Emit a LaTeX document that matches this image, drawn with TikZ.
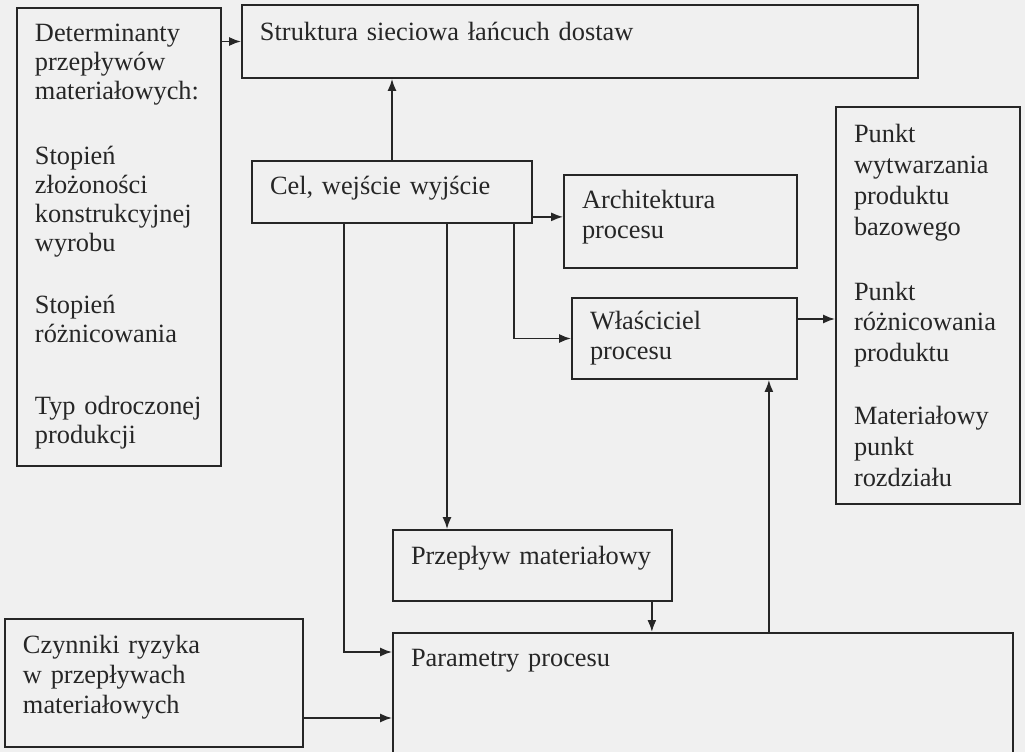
\documentclass[tikz,border=0pt]{standalone}
\usepackage{fontspec}
\setmainfont{Liberation Serif}
\usepackage{tikz}
\usetikzlibrary{positioning,arrows.meta}
\definecolor{mypaper}{rgb}{0.94,0.94,0.94}
\definecolor{myink}{rgb}{0.15,0.15,0.15}
\hyphenpenalty=10000
\exhyphenpenalty=10000

\begin{document}
\begin{tikzpicture}[x=0.2mm,y=-0.2mm,
        block/.style  = {draw=myink, rectangle, line width=1pt, align=left, inner xsep=3.6mm, inner ysep=0mm, text=myink, font=\fontsize{15}{17}\selectfont},
]
\tikzstyle{connect}=[-{Latex[length=2.4mm,width=1.8mm]}, line width=1pt, draw=myink]

	\fill[mypaper] (0,0) rectangle (1025,752);
	\useasboundingbox (0,0) rectangle (1025,752);

	\node[block, minimum width=40.8mm, minimum height=91.6mm, text width=33.6mm, font=\fontsize{15}{16.5}\selectfont] (det) at (119,237) {Determinanty\\przepływów\\materiałowych:\\[20.5pt]Stopień\\złożoności\\konstrukcyjnej\\wyrobu\\[18.8pt]Stopień\\różnicowania\\[24.5pt]Typ~odroczonej\\produkcji};

	\node[block, minimum width=135.2mm, minimum height=14.6mm, text width=128mm, text depth=4mm] (str) at (580,41.5) {Struktura sieciowa łańcuch dostaw};

	\node[block, minimum width=56mm, minimum height=12.4mm, text width=48.8mm, text depth=2.8mm] (cel) at (392,192) {Cel, wejście wyjście};

	\node[block, minimum width=46.6mm, minimum height=18.6mm, text width=39.4mm, text depth=8.8mm] (arch) at (680.5,221.5) {Architektura\\procesu};

	\node[block, minimum width=45mm, minimum height=16.2mm, text width=37.8mm] (wla) at (684.5,338.5) {Właściciel\\procesu};

	\node[block, minimum width=36.8mm, minimum height=79.4mm, text width=29.6mm, font=\fontsize{15}{17.6}\selectfont] (pkt) at (928,305.5) {Punkt\\wytwarzania\\produktu\\bazowego\\[19.3pt]Punkt\\różnicowania\\produktu\\[18.2pt]Materiałowy\\punkt\\rozdziału};

	\node[block, minimum width=55.8mm, minimum height=14.2mm, text width=48.6mm, text depth=4mm] (prz) at (532.5,565.5) {Przepływ~materiałowy};

	\node[block, anchor=north, text width=116.8mm, inner ysep=1.8mm, text height=5mm, text depth=26.8mm] (par) at (703,632) {Parametry procesu};

	\node[block, minimum width=59.6mm, minimum height=25.6mm, text width=52.4mm, text depth=15.5mm] (czy) at (154,683) {Czynniki ryzyka\\w przepływach\\materiałowych};

	\draw[connect] (det.east |- str.west) -- (str.west);
	\draw[connect] (cel.north) -- (cel.north |- str.south);
	\draw[connect] ([yshift=1.4mm]cel.south east) -- ([yshift=1.4mm]cel.south east -| arch.west);
	\draw[connect] ([xshift=-3.8mm]cel.south east) |- (wla.west);
	\draw[connect] ([xshift=11mm]cel.south) -- ([xshift=11mm]cel.south |- prz.north);
	\draw[connect] ([xshift=-9.6mm]cel.south) |- ([yshift=-4mm]par.north west);
	\draw[connect] ([xshift=-4.2mm]prz.south east) -- ([xshift=-4.2mm]prz.south east |- par.north);
	\draw[connect] ([xshift=-5.8mm]wla.south east |- par.north) -- ([xshift=-5.8mm]wla.south east);
	\draw[connect] ([yshift=3.9mm]wla.east) -- ([yshift=3.9mm]wla.east -| pkt.west);
	\draw[connect] ([yshift=-7mm]czy.east) -- ([yshift=-7mm]czy.east -| par.west);

\end{tikzpicture}
\end{document}
